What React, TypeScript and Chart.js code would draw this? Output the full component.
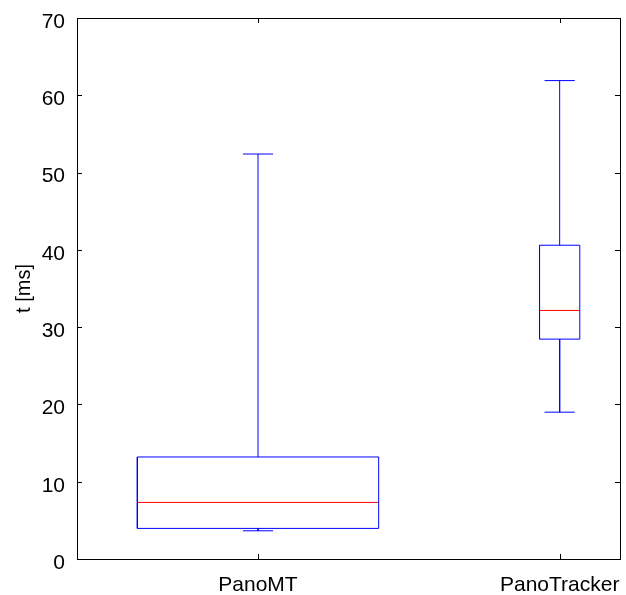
import React, { useEffect, useRef } from "react";
import { Chart, registerables } from "chart.js";

Chart.register(...registerables);

const categories = ["PanoMT", "PanoTracker"];
const positions = [3, 8];
const boxWidths = [4, 0.667];
const capWidth = 0.5;
const mins = [3.65, 19.0];
const q1s = [3.96, 28.45];
const medians = [7.32, 32.16];
const q3s = [13.2, 40.6];
const maxs = [52.4, 61.9];
const yTicks = [0, 10, 20, 30, 40, 50, 60, 70];

const FONT = "'Liberation Sans', Arial, sans-serif";

type P = { x: number; y: number | null };

function buildBlue(): P[] {
  const pts: P[] = [];
  const gap = (x: number) => pts.push({ x, y: null });
  categories.forEach((_, i) => {
    const c = positions[i];
    const hw = boxWidths[i] / 2;
    const cw = capWidth / 2;
    pts.push({ x: c - hw, y: q1s[i] }, { x: c + hw, y: q1s[i] }, { x: c + hw, y: q3s[i] }, { x: c - hw, y: q3s[i] }, { x: c - hw, y: q1s[i] });
    gap(c);
    pts.push({ x: c, y: q3s[i] }, { x: c, y: maxs[i] });
    gap(c);
    pts.push({ x: c - cw, y: maxs[i] }, { x: c + cw, y: maxs[i] });
    gap(c);
    pts.push({ x: c, y: q1s[i] }, { x: c, y: mins[i] });
    gap(c);
    pts.push({ x: c - cw, y: mins[i] }, { x: c + cw, y: mins[i] });
    gap(c);
  });
  return pts;
}

function buildRed(): P[] {
  const pts: P[] = [];
  categories.forEach((_, i) => {
    const c = positions[i];
    const hw = boxWidths[i] / 2;
    pts.push({ x: c - hw, y: medians[i] }, { x: c + hw, y: medians[i] }, { x: c, y: null });
  });
  return pts;
}

const framePlugin = {
  id: "frameTicks",
  afterDatasetsDraw(chart: any) {
    const { ctx, chartArea: a, scales } = chart;
    const xs = scales.x;
    const ys = scales.y;
    ctx.save();
    ctx.strokeStyle = "#000";
    ctx.lineWidth = 1;
    ctx.beginPath();
    const tl = 5;
    ys.ticks.forEach((t: any) => {
      const y = Math.round(ys.getPixelForValue(t.value)) + 0.5;
      ctx.moveTo(a.left, y);
      ctx.lineTo(a.left + tl, y);
      ctx.moveTo(a.right, y);
      ctx.lineTo(a.right - tl, y);
    });
    xs.ticks.forEach((t: any) => {
      const x = Math.round(xs.getPixelForValue(t.value)) + 0.5;
      ctx.moveTo(x, a.bottom);
      ctx.lineTo(x, a.bottom - tl);
      ctx.moveTo(x, a.top);
      ctx.lineTo(x, a.top + tl);
    });
    ctx.stroke();
    ctx.strokeRect(Math.round(a.left) + 0.5, Math.round(a.top) + 0.5, Math.round(a.right - a.left), Math.round(a.bottom - a.top));
    ctx.restore();
  },
};

export default function App() {
  const ref = useRef<HTMLCanvasElement | null>(null);
  useEffect(() => {
    if (!ref.current) return;
    const chart = new Chart(ref.current, {
      type: "scatter",
      data: {
        datasets: [
          {
            data: buildBlue() as any,
            showLine: true,
            spanGaps: false,
            borderColor: "#0000ff",
            borderWidth: 1,
            pointRadius: 0,
          },
          {
            data: buildRed() as any,
            showLine: true,
            spanGaps: false,
            borderColor: "#ff0000",
            borderWidth: 1,
            pointRadius: 0,
          },
        ],
      },
      options: {
        animation: false,
        responsive: true,
        maintainAspectRatio: false,
        layout: { padding: { top: 18, right: 6, left: 0, bottom: 0 } },
        plugins: { legend: { display: false }, tooltip: { enabled: false } },
        scales: {
          x: {
            type: "linear",
            min: 0,
            max: 9,
            afterBuildTicks: (s: any) => {
              s.ticks = positions.map((v) => ({ value: v }));
            },
            afterFit: (s: any) => {
              s.height = 36;
              s.paddingLeft = 0;
              s.paddingRight = 0;
            },
            grid: { display: false, drawTicks: false },
            border: { display: false },
            ticks: {
              color: "#000",
              font: { family: FONT, size: 21 },
              padding: 14,
              maxRotation: 0,
              autoSkip: false,
              callback: (v: any) => {
                const i = positions.indexOf(Number(v));
                return i >= 0 ? categories[i] : "";
              },
            },
          },
          y: {
            type: "linear",
            min: 0,
            max: 70,
            afterBuildTicks: (s: any) => {
              s.ticks = yTicks.map((v) => ({ value: v }));
            },
            afterFit: (s: any) => {
              s.width = 77;
              s.paddingTop = 0;
              s.paddingBottom = 0;
            },
            grid: { display: false, drawTicks: false },
            border: { display: false },
            title: {
              display: true,
              text: "t [ms]",
              color: "#000",
              font: { family: FONT, size: 20 },
              padding: { top: 12, bottom: 0 },
            },
            ticks: {
              color: "#000",
              font: { family: FONT, size: 21 },
              padding: 12,
              labelOffset: 4,
            },
          },
        },
      },
      plugins: [framePlugin],
    });
    return () => chart.destroy();
  }, []);
  return (
    <div style={{ position: "absolute", left: 0, top: 0, width: 626, height: 595 }}>
      <canvas ref={ref} />
    </div>
  );
}
